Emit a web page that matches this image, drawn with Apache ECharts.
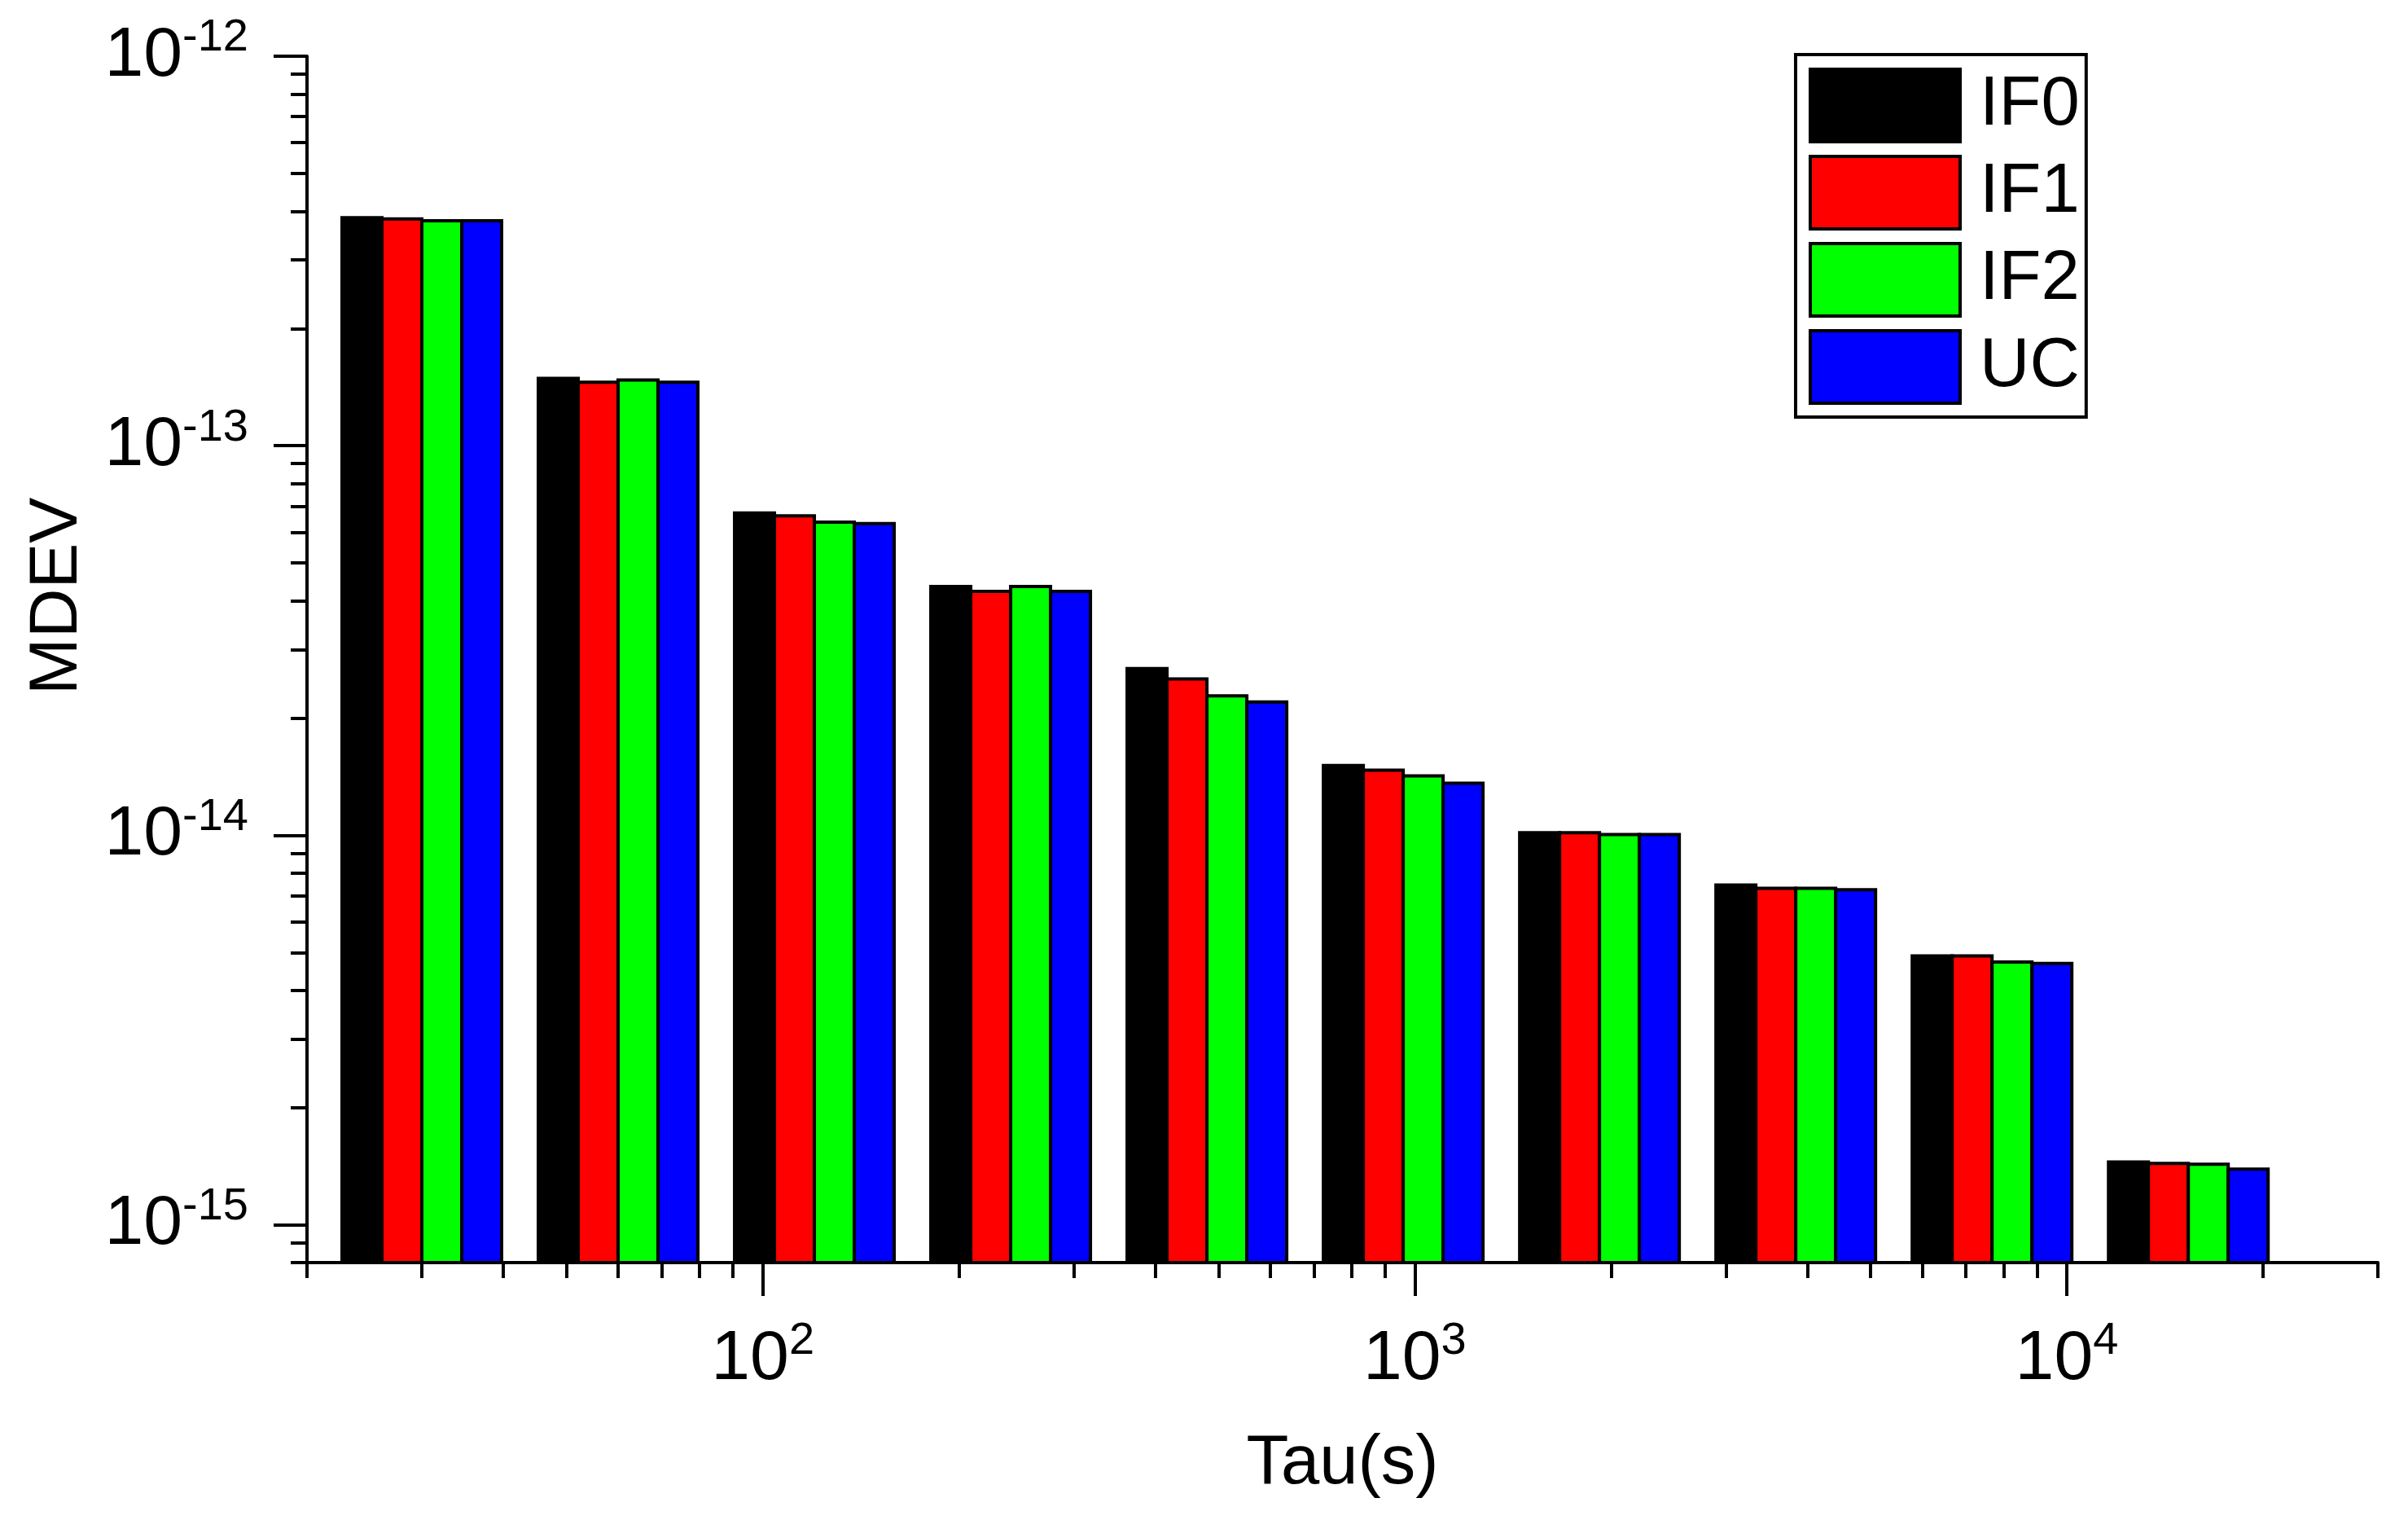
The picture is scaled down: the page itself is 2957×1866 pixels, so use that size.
<!DOCTYPE html>
<html>
<head>
<meta charset="utf-8">
<script src="https://cdn.jsdelivr.net/npm/echarts@6/dist/echarts.min.js"></script>
<style>
html,body{margin:0;padding:0;background:#fff;}
#chart{width:2957px;height:1866px;}
</style>
</head>
<body>
<div id="chart"></div>
<script>
// ---- data ----
const taus = [30, 60, 120, 240, 480, 960, 1920, 3840, 7680, 15360];
const seriesNames = ['IF0', 'IF1', 'IF2', 'UC'];
const IF0 = [3.85e-13, 1.49e-13, 6.72e-14, 4.35e-14, 2.68e-14, 1.51e-14, 1.015e-14, 7.45e-15, 4.90e-15, 1.45e-15];
const IF1 = [3.82e-13, 1.456e-13, 6.61e-14, 4.23e-14, 2.52e-14, 1.47e-14, 1.015e-14, 7.31e-15, 4.90e-15, 1.437e-15];
const IF2 = [3.78e-13, 1.475e-13, 6.37e-14, 4.35e-14, 2.28e-14, 1.42e-14, 1.005e-14, 7.31e-15, 4.73e-15, 1.43e-15];
const UC  = [3.78e-13, 1.456e-13, 6.31e-14, 4.23e-14, 2.20e-14, 1.36e-14, 1.005e-14, 7.25e-15, 4.69e-15, 1.39e-15];
const xMajorTicks = [100, 1000, 10000];
const xMinorTicks = [20,30,40,50,60,70,80,90,200,300,400,500,600,700,800,900,2000,3000,4000,5000,6000,7000,8000,9000,20000,30000];
const yMajorTicks = [1e-15, 1e-14, 1e-13, 1e-12];
const yMinorTicks = [8e-16,9e-16,2e-15,3e-15,4e-15,5e-15,6e-15,7e-15,8e-15,9e-15,2e-14,3e-14,4e-14,5e-14,6e-14,7e-14,8e-14,9e-14,2e-13,3e-13,4e-13,5e-13,6e-13,7e-13,8e-13,9e-13];
const colors = ['#000000', '#ff0000', '#00ff00', '#0000ff'];

const X_MIN = 20, X_MAX = 30000, Y_MIN = 8e-16, Y_MAX = 1e-12;
const BAR_DEC = 0.0612; // bar width in decades of tau

const FONT = 'Liberation Sans';
const rich = {
  b: { fontFamily: FONT, fontSize: 86, lineHeight: 100, color: '#000' },
  s: { fontFamily: FONT, fontSize: 56, lineHeight: 56, verticalAlign: 'top', color: '#000' }
};
function powLabel(v) {
  const e = Math.round(Math.log10(v));
  return '{b|10}{s|' + e + '}';
}

const allVals = [IF0, IF1, IF2, UC];

function renderBar(params, api) {
  const tau = api.value(0), v = api.value(1);
  const k = params.seriesIndex;
  const lt = Math.log10(tau);
  const xa = Math.pow(10, lt + (k - 2) * BAR_DEC);
  const xb = Math.pow(10, lt + (k - 1) * BAR_DEC);
  const p0 = api.coord([xa, v]);
  const p1 = api.coord([xb, Y_MIN]);
  return {
    type: 'rect',
    shape: { x: p0[0], y: p0[1], width: p1[0] - p0[0], height: p1[1] - p0[1] },
    style: { fill: api.visual('color'), stroke: '#000', lineWidth: 4 }
  };
}

const axisLineStyle = { color: '#000', width: 4 };

const option = {
  animation: false,
  backgroundColor: '#fff',
  grid: { left: 377, right: 37, top: 69, bottom: 316, containLabel: false },
  legend: {
    orient: 'vertical',
    left: 2205, top: 67,
    data: seriesNames.map((n, i) => ({ name: n, icon: 'rect', itemStyle: { color: colors[i], borderColor: '#000', borderWidth: 4 } })),
    itemWidth: 184, itemHeight: 89, itemGap: 14,
    borderColor: '#000', borderWidth: 4,
    padding: [16, 8, 15, 16],
    textStyle: { fontFamily: FONT, fontSize: 85, color: '#000', padding: [0, 0, 0, 19] }
  },
  xAxis: [
    {
      type: 'log', logBase: 10, min: X_MIN, max: X_MAX, position: 'bottom',
      name: 'Tau(s)', nameLocation: 'middle', nameGap: 205,
      nameTextStyle: { fontFamily: FONT, fontSize: 85, color: '#000' },
      axisLine: { show: true, lineStyle: axisLineStyle },
      axisTick: { show: true, inside: false, length: 41, lineStyle: { color: '#000', width: 4 }, customValues: xMajorTicks },
      axisLabel: { show: true, margin: 69, customValues: xMajorTicks, formatter: powLabel, rich: rich },
      splitLine: { show: false }, minorTick: { show: false }
    },
    {
      type: 'log', logBase: 10, min: X_MIN, max: X_MAX, position: 'bottom', offset: 0,
      axisLine: { show: false },
      axisTick: { show: true, inside: false, length: 19, lineStyle: { color: '#000', width: 4 }, customValues: xMinorTicks },
      axisLabel: { show: false },
      splitLine: { show: false }
    }
  ],
  yAxis: [
    {
      type: 'log', logBase: 10, min: Y_MIN, max: Y_MAX, position: 'left',
      name: 'MDEV', nameLocation: 'middle', nameGap: 264, nameRotate: 90,
      nameTextStyle: { fontFamily: FONT, fontSize: 84, color: '#000', padding: [0, 0, 0, 155] },
      axisLine: { show: true, lineStyle: axisLineStyle },
      axisTick: { show: true, inside: false, length: 41, lineStyle: { color: '#000', width: 4 }, customValues: yMajorTicks },
      axisLabel: { show: true, margin: 72, customValues: yMajorTicks, formatter: powLabel, rich: rich },
      splitLine: { show: false }, minorTick: { show: false }
    },
    {
      type: 'log', logBase: 10, min: Y_MIN, max: Y_MAX, position: 'left', offset: 0,
      axisLine: { show: false },
      axisTick: { show: true, inside: false, length: 20, lineStyle: { color: '#000', width: 4 }, customValues: yMinorTicks },
      axisLabel: { show: false },
      splitLine: { show: false }
    }
  ],
  series: seriesNames.map((n, i) => ({
    name: n,
    type: 'custom',
    xAxisIndex: 0, yAxisIndex: 0,
    color: colors[i],
    itemStyle: { color: colors[i], borderColor: '#000', borderWidth: 4 },
    renderItem: renderBar,
    encode: { x: 0, y: 1 },
    data: taus.map((t, j) => [t, allVals[i][j]])
  }))
};

const chart = echarts.init(document.getElementById('chart'));
chart.setOption(option);
</script>
</body>
</html>
